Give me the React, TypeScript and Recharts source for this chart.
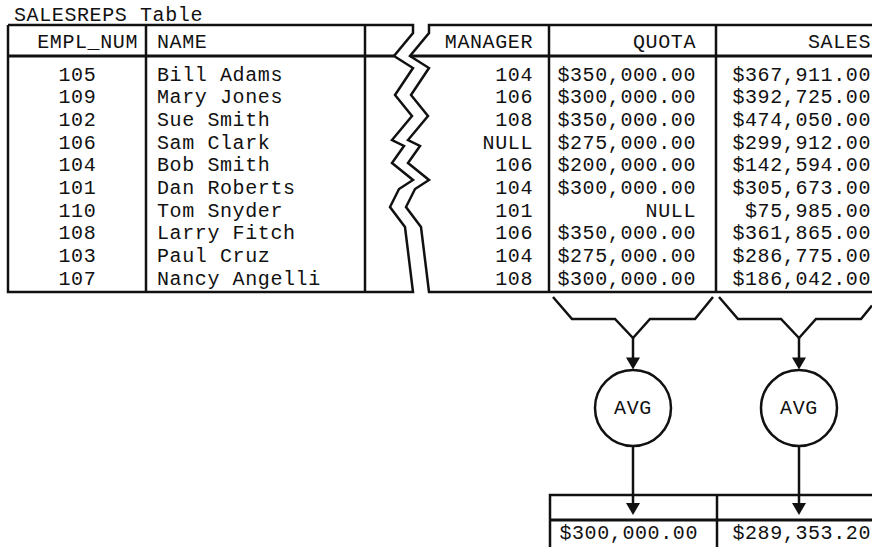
import { ComposedChart, XAxis, YAxis, Scatter } from 'recharts';

// SALESREPS table -> AVG(QUOTA), AVG(SALES) diagram

const W = 872;
const H = 547;

const emplNums = ['105', '109', '102', '106', '104', '101', '110', '108', '103', '107'];
const names = [
  'Bill Adams', 'Mary Jones', 'Sue Smith', 'Sam Clark', 'Bob Smith',
  'Dan Roberts', 'Tom Snyder', 'Larry Fitch', 'Paul Cruz', 'Nancy Angelli',
];
const managers = ['104', '106', '108', 'NULL', '106', '104', '101', '106', '104', '108'];
const quotas: (number | null)[] = [350000, 300000, 350000, 275000, 200000, 300000, null, 350000, 275000, 300000];
const sales = [367911, 392725, 474050, 299912, 142594, 305673, 75985, 361865, 286775, 186042];
const headers = ['EMPL_NUM', 'NAME', 'MANAGER', 'QUOTA', 'SALES'];
const title = 'SALESREPS Table';
const funcName = 'AVG';

// layout (diagram units == px)
const TOP = 25;
const HEAD_BOT = 56;
const BOT = 292;
const HEAD_Y = 48;
const ROW0 = 80.5;
const ROW_H = 22.7;
const LEFT = 8;
const COL_NAME = 146;
const COL_BLANK = 365;
const COL_QUOTA = 549;
const COL_SALES = 716;
const BREAK_GAP = 16;
const leftBreak = [
  [413, 25], [413, 33], [394, 56], [413, 68], [395, 95], [412, 116], [392, 140],
  [404, 146], [392, 163], [413, 180], [399, 189], [390, 207], [405, 227], [413, 292],
];
const rightBreak = leftBreak.map(([x, y]) => [x + BREAK_GAP, y]);

const AVG_X = [633, 799];
const FUNNEL_TOP = 297;
const FUNNEL_MID = 319;
const FUNNEL_TIP = 338;
const CIRCLE_Y = 408;
const CIRCLE_R = 38;
const RES_TOP = 495;
const RES_HEAD = 520;
const RES_LEFT = 550;
const RES_DIV = 717;
const RES_Y = 539;

const INK = '#111';
const FONT = "'Courier New', 'Liberation Mono', monospace";

const fmtMoney = (v: number | null) =>
  v == null ? 'NULL' : '$' + v.toLocaleString('en-US', { minimumFractionDigits: 2, maximumFractionDigits: 2 });

const avg = (vals: (number | null)[]) => {
  const ok = vals.filter((v): v is number => v != null);
  return ok.reduce((a, b) => a + b, 0) / ok.length;
};

const pt = (p: number[]) => ({ x: p[0], y: p[1] });

const textShape = (anchor: 'start' | 'middle' | 'end') => (p: any) => (
  <text
    x={p.cx}
    y={p.cy}
    textAnchor={anchor}
    fontFamily={FONT}
    fontSize={20}
    letterSpacing={0.6}
    fill={INK}
  >
    {p.payload.label}
  </text>
);

const noDot = () => <g />;

const polyline = (key: string, pts: number[][], width = 2.5) => (
  <Scatter
    key={key}
    data={pts.map(pt)}
    line={{ stroke: INK, strokeWidth: width, strokeLinejoin: 'miter' }}
    lineType="joint"
    shape={noDot}
    isAnimationActive={false}
  />
);

const textCol = (key: string, x: number, labels: string[], anchor: 'start' | 'end') => (
  <Scatter
    key={key}
    data={labels.map((label, i) => ({ x, y: ROW0 + i * ROW_H, label }))}
    shape={textShape(anchor)}
    isAnimationActive={false}
  />
);

const arrowShape = (p: any) => (
  <polygon points={`${p.cx - 7},${p.cy - 12} ${p.cx + 7},${p.cy - 12} ${p.cx},${p.cy}`} fill={INK} />
);

const circleShape = (p: any) => (
  <g>
    <circle cx={p.cx} cy={p.cy} r={CIRCLE_R} fill="#fff" stroke={INK} strokeWidth={2.5} />
    <text x={p.cx} y={p.cy + 5.5} textAnchor="middle" fontFamily={FONT} fontSize={20} letterSpacing={0.6} fill={INK}>
      {p.payload.label}
    </text>
  </g>
);

const funnel = (cx: number, right: number) => {
  const pts = [
    [cx - 80, FUNNEL_TOP], [cx - 61, FUNNEL_MID], [cx - 18, FUNNEL_MID], [cx, FUNNEL_TIP],
    [cx + 17, FUNNEL_MID], [cx + 62, FUNNEL_MID], [cx + 80, FUNNEL_TOP],
  ];
  // clip last segment to the chart's right edge
  const [x1, y1] = pts[5];
  const [x2, y2] = pts[6];
  if (x2 > right) pts[6] = [right, y1 + ((y2 - y1) * (right - x1)) / (x2 - x1)];
  return pts;
};

export default function App() {
  const avgQuota = avg(quotas);
  const avgSales = avg(sales);

  return (
    <div style={{ position: 'absolute', left: 0, top: 0, width: W, height: H, background: '#fff' }}>
      <ComposedChart width={W} height={H} margin={{ top: 0, right: 0, bottom: 0, left: 0 }}>
        <XAxis type="number" dataKey="x" domain={[0, W]} hide allowDataOverflow />
        <YAxis type="number" dataKey="y" domain={[0, H]} reversed hide allowDataOverflow />

        {/* left part of the table */}
        {polyline('leftOutline', [[LEFT, TOP], ...leftBreak, [LEFT, BOT], [LEFT, TOP]])}
        {polyline('leftHead', [[LEFT, HEAD_BOT], leftBreak[2]], 3)}
        {polyline('colName', [[COL_NAME, TOP], [COL_NAME, BOT]])}
        {polyline('colBlank', [[COL_BLANK, TOP], [COL_BLANK, BOT]])}

        {/* right part of the table */}
        {polyline('rightOutline', [[W, TOP], ...rightBreak, [W, BOT]])}
        {polyline('rightHead', [rightBreak[2], [W, HEAD_BOT]], 3)}
        {polyline('colQuota', [[COL_QUOTA, TOP], [COL_QUOTA, BOT]])}
        {polyline('colSales', [[COL_SALES, TOP], [COL_SALES, BOT]])}

        {/* title + headers */}
        <Scatter
          data={[
            { x: 14, y: 20.5, label: title, anchor: 'start' },
            { x: 157, y: HEAD_Y, label: headers[1] },
          ]}
          shape={textShape('start')}
          isAnimationActive={false}
        />
        <Scatter
          data={[
            { x: 138, y: HEAD_Y, label: headers[0] },
            { x: 533, y: HEAD_Y, label: headers[2] },
            { x: 696, y: HEAD_Y, label: headers[3] },
            { x: 871, y: HEAD_Y, label: headers[4] },
          ]}
          shape={textShape('end')}
          isAnimationActive={false}
        />

        {/* rows */}
        {textCol('empl', 58.5, emplNums, 'start')}
        {textCol('name', 157, names, 'start')}
        {textCol('mgr', 533, managers, 'end')}
        {textCol('quota', 696, quotas.map(fmtMoney), 'end')}
        {textCol('sales', 871, sales.map(fmtMoney), 'end')}

        {/* funnels, stems, AVG circles */}
        {AVG_X.map((cx, i) => polyline(`funnel${i}`, funnel(cx, W)))}
        {AVG_X.map((cx, i) => polyline(`stemA${i}`, [[cx, FUNNEL_TIP], [cx, CIRCLE_Y - CIRCLE_R - 12]]))}
        {AVG_X.map((cx, i) => polyline(`stemB${i}`, [[cx, CIRCLE_Y + CIRCLE_R], [cx, RES_TOP + 8]]))}
        <Scatter
          data={AVG_X.flatMap((cx) => [
            { x: cx, y: CIRCLE_Y - CIRCLE_R - 0.5 },
            { x: cx, y: RES_HEAD - 5 },
          ])}
          shape={arrowShape}
          isAnimationActive={false}
        />
        <Scatter
          data={AVG_X.map((cx) => ({ x: cx, y: CIRCLE_Y, label: funcName }))}
          shape={circleShape}
          isAnimationActive={false}
        />

        {/* result table */}
        {polyline('resTop', [[W, RES_TOP], [RES_LEFT, RES_TOP], [RES_LEFT, H]])}
        {polyline('resHead', [[RES_LEFT, RES_HEAD], [W, RES_HEAD]], 3)}
        {polyline('resDiv', [[RES_DIV, RES_TOP], [RES_DIV, H]])}
        <Scatter
          data={[
            { x: 698, y: RES_Y, label: fmtMoney(avgQuota) },
            { x: 871, y: RES_Y, label: fmtMoney(avgSales) },
          ]}
          shape={textShape('end')}
          isAnimationActive={false}
        />
      </ComposedChart>
    </div>
  );
}
